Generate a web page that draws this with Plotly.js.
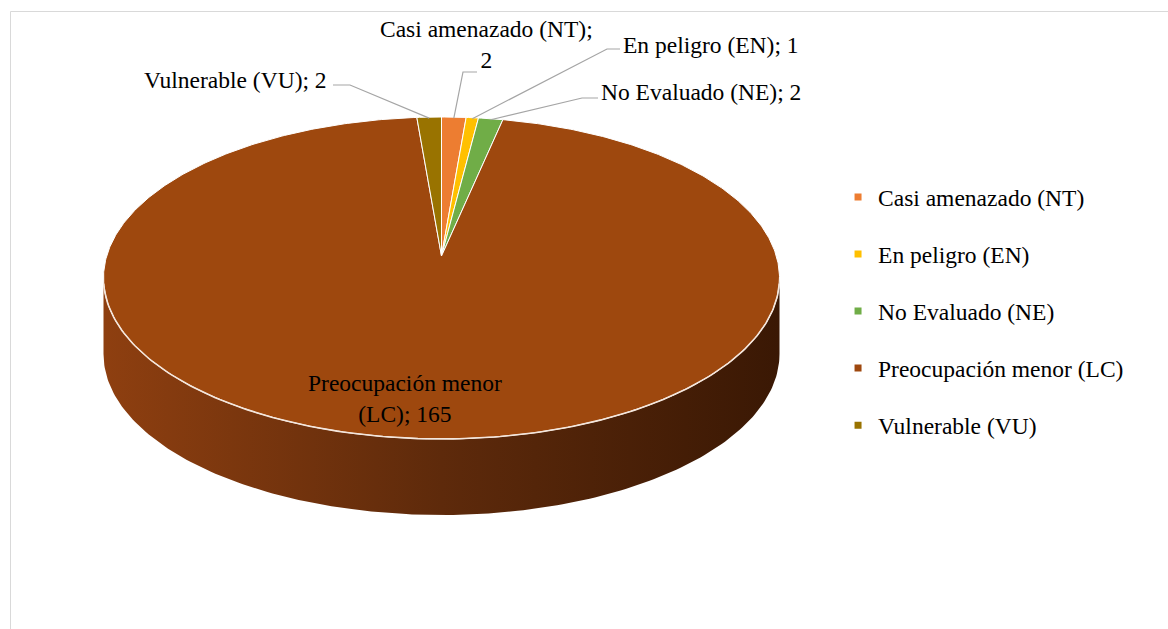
<!DOCTYPE html>
<html>
<head>
<meta charset="utf-8">
<script src="https://cdn.plot.ly/plotly-3.0.1.min.js"></script>
<style>html,body{margin:0;padding:0;background:#fff}#chart{width:1168px;height:629px}</style>
</head>
<body>
<div id="chart"></div>
<script>
// ---- data ----
const categories = ['Casi amenazado (NT)', 'En peligro (EN)', 'No Evaluado (NE)', 'Preocupación menor (LC)', 'Vulnerable (VU)'];
const values = [2, 1, 2, 165, 2];
const colors = ['#ED7D31', '#FFC000', '#70AD47', '#9E480E', '#997300'];

// ---- geometry (styling) ----
const CX = 441.5, CY = 278, RX = 338, RY = 161, AY = 256, DEPTH = 76;
const FONT = 'Liberation Serif, DejaVu Serif, serif';
const FS = 23.5;
function rim(deg) { const t = deg * Math.PI / 180; return [CX + RX * Math.sin(t), CY - RY * Math.cos(t)]; }

const total = values.reduce((a, b) => a + b, 0);
const traces = [];

// side wall
(function () {
  const xs = [], ys = [];
  for (let d = 90; d <= 270; d += 1) { const p = rim(d); xs.push(p[0]); ys.push(p[1]); }
  for (let d = 270; d >= 90; d -= 1) { const p = rim(d); xs.push(p[0]); ys.push(p[1] + DEPTH); }
  traces.push({
    type: 'scatter', mode: 'lines', x: xs, y: ys, fill: 'toself',
    line: { width: 0, color: 'rgba(0,0,0,0)' },
    fillgradient: { type: 'horizontal', colorscale: [[0, '#8E3F10'], [0.5, '#5E2A0B'], [1, '#3A1804']] },
    showlegend: false, hoverinfo: 'skip'
  });
})();

// top faces
const mids = [];
let acc = 0;
values.forEach((v, i) => {
  const a0 = acc / total * 360, a1 = (acc + v) / total * 360;
  mids.push((a0 + a1) / 2);
  acc += v;
  const xs = [CX], ys = [AY];
  const n = Math.max(3, Math.ceil((a1 - a0) * 2));
  for (let k = 0; k <= n; k++) { const p = rim(a0 + (a1 - a0) * k / n); xs.push(p[0]); ys.push(p[1]); }
  xs.push(CX); ys.push(AY);
  traces.push({
    type: 'scatter', mode: 'lines', x: xs, y: ys, fill: 'toself', fillcolor: colors[i],
    line: { color: '#FFFFFF', width: 1 }, showlegend: false, hoverinfo: 'skip'
  });
});

// front rim highlight
(function () {
  const xs = [], ys = [];
  for (let d = 92; d <= 268; d += 1) { const p = rim(d); xs.push(p[0]); ys.push(p[1]); }
  traces.push({ type: 'scatter', mode: 'lines', x: xs, y: ys, line: { color: '#F4E6DC', width: 1.6 }, showlegend: false, hoverinfo: 'skip' });
})();

// leader lines
const leaderAnchors = { 0: [[477, 72], [463, 72]], 1: [[620, 49], [607, 49]], 2: [[598, 98], [582, 98]], 4: [[333, 85], [350, 85]] };
Object.keys(leaderAnchors).forEach(k => {
  const i = +k, pts = leaderAnchors[k], p = rim(mids[i]);
  traces.push({
    type: 'scatter', mode: 'lines', x: [pts[0][0], pts[1][0], p[0]], y: [pts[0][1], pts[1][1], p[1] + 1],
    line: { color: '#A5A5A5', width: 1.2 }, showlegend: false, hoverinfo: 'skip'
  });
});

// legend entries
categories.forEach((c, i) => {
  traces.push({
    type: 'scatter', mode: 'markers', x: [null], y: [null], name: c, legendgroup: 'g' + i,
    marker: { symbol: 'square', size: 7, color: colors[i] }, hoverinfo: 'skip'
  });
});

// data labels
const lab = i => categories[i] + '; ' + values[i];
const annotations = [
  { x: 486, y: 44, text: categories[0] + ';<br>' + values[0], xanchor: 'center', align: 'center' },
  { x: 621, y: 45, text: lab(1), xanchor: 'left' },
  { x: 599, y: 92, text: lab(2), xanchor: 'left' },
  { x: 329, y: 80, text: lab(4), xanchor: 'right' },
  { x: 404.5, y: 398, text: 'Preocupación menor<br>(LC); ' + values[3], xanchor: 'center', align: 'center' }
].map(a => Object.assign({ xref: 'x', yref: 'y', yanchor: 'middle', showarrow: false, font: { family: FONT, size: FS, color: '#000' } }, a));

const layout = {
  width: 1168, height: 629, margin: { l: 0, r: 0, t: 0, b: 0 },
  paper_bgcolor: '#fff', plot_bgcolor: '#fff',
  font: { family: FONT },
  xaxis: { range: [0, 1168], visible: false, fixedrange: true },
  yaxis: { range: [629, 0], visible: false, fixedrange: true },
  showlegend: true,
  legend: {
    x: 0.7175, xanchor: 'left', y: 0.7215, yanchor: 'top',
    font: { family: FONT, size: FS, color: '#000' },
    tracegroupgap: 23.5, bgcolor: 'rgba(0,0,0,0)'
  },
  shapes: [{ type: 'rect', xref: 'x', yref: 'y', x0: 10.5, y0: 11.5, x1: 1200, y1: 700, line: { color: '#D9D9D9', width: 1 } }],
  annotations: annotations
};

Plotly.newPlot('chart', traces, layout, { staticPlot: true, displayModeBar: false });
</script>
</body>
</html>
